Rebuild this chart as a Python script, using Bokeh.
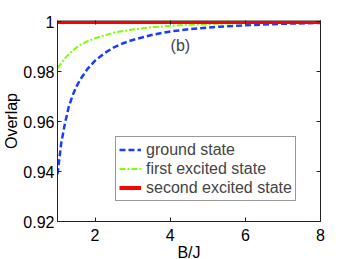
from bokeh.plotting import figure
from bokeh.models import Range1d, LinearAxis, FixedTicker, CustomJSTickFormatter, Legend, LegendItem, Label
from bokeh.embed import file_html
from bokeh.resources import INLINE

# Data
b_over_j = [1.0, 1.1, 1.2, 1.3, 1.4, 1.5, 1.6, 1.8, 2.0, 2.25, 2.5, 2.75, 3.0, 3.5, 4.0, 4.5, 5.0, 5.5, 6.0, 7.0, 8.0]
ground = [0.939, 0.9515, 0.9595, 0.966, 0.9705, 0.974, 0.9768, 0.9812, 0.9845, 0.9875, 0.9898, 0.9915, 0.9928,
          0.9948, 0.9962, 0.9971, 0.9978, 0.9983, 0.9987, 0.9993, 0.9996]
first_excited = [0.9815, 0.9835, 0.9855, 0.987, 0.9885, 0.9897, 0.9907, 0.9923, 0.9935, 0.9947, 0.9957, 0.9964,
                 0.997, 0.9979, 0.9985, 0.9989, 0.9992, 0.9994, 0.9995, 0.9997, 0.9998]
second_excited = [1.0] * len(b_over_j)
x_ticks = [2, 4, 6, 8]
y_ticks = [0.92, 0.94, 0.96, 0.98, 1.0]
labels = ["ground state", "first excited state", "second excited state"]

FONT = "Liberation Sans"

p = figure(frame_width=263, frame_height=201, min_border_left=50, min_border_right=20,
           min_border_top=20, min_border_bottom=34,
           x_range=Range1d(1, 8), y_range=Range1d(0.92, 1.0006),
           output_backend="svg", toolbar_location=None)
p.grid.visible = False
p.outline_line_color = None

r1 = p.line(b_over_j, ground, line_color="#1a3cff", line_width=2.5, line_dash="6 3")
r2 = p.line(b_over_j, first_excited, line_color="#7fff00", line_width=2, line_dash="6 2 2 2")
r3 = p.line(b_over_j, second_excited, line_color="#ff0000", line_width=4)

def style(ax, show_labels):
    ax.major_tick_in = 4
    ax.major_tick_out = 0
    ax.minor_tick_line_color = None
    ax.axis_line_color = "#222222"
    ax.major_tick_line_color = "#222222"
    ax.major_label_text_font = FONT
    ax.axis_label_text_font = FONT
    ax.axis_label_text_font_size = "16px"
    ax.axis_label_text_font_style = "normal"
    ax.axis_label_text_color = "black"
    if show_labels:
        ax.major_label_text_font_size = "16px"
        ax.major_label_text_color = "black"
    else:
        ax.major_label_text_font_size = "2px"
        ax.major_label_text_color = None
        ax.major_label_standoff = 0

p.xaxis.ticker = FixedTicker(ticks=x_ticks)
p.yaxis.ticker = FixedTicker(ticks=y_ticks)
p.yaxis.formatter = CustomJSTickFormatter(code="return tick > 0.999 ? '1' : tick.toFixed(2);")
p.xaxis.formatter = CustomJSTickFormatter(code="return tick.toFixed(0);")
style(p.xaxis[0], True)
style(p.yaxis[0], True)
p.xaxis.axis_label = "B/J"
p.yaxis.axis_label = "Overlap"
p.xaxis.major_label_standoff = 7
p.yaxis.major_label_standoff = 3
p.yaxis.axis_label_standoff = 0
p.xaxis.axis_label_standoff = 0

top = LinearAxis(ticker=FixedTicker(ticks=x_ticks))
right = LinearAxis(ticker=FixedTicker(ticks=y_ticks))
style(top, False)
style(right, False)
top.axis_line_color = "#999999"
p.add_layout(top, "above")
p.add_layout(right, "right")

legend = Legend(items=[LegendItem(label=labels[0], renderers=[r1]),
                       LegendItem(label=labels[1], renderers=[r2]),
                       LegendItem(label=labels[2], renderers=[r3])],
                location=(58, 20), label_text_font=FONT, label_text_font_size="16px",
                glyph_width=22, glyph_height=19, label_height=19, label_standoff=5,
                spacing=0, padding=3, margin=0, border_line_color="#333333",
                background_fill_color="white", background_fill_alpha=1)
p.add_layout(legend, "center")

p.add_layout(Label(x=4.27, y=0.9906, text="(b)", text_font=FONT, text_font_size="16px",
                   text_align="center", text_baseline="middle"))

open("out.html", "w").write(file_html(p, INLINE))
